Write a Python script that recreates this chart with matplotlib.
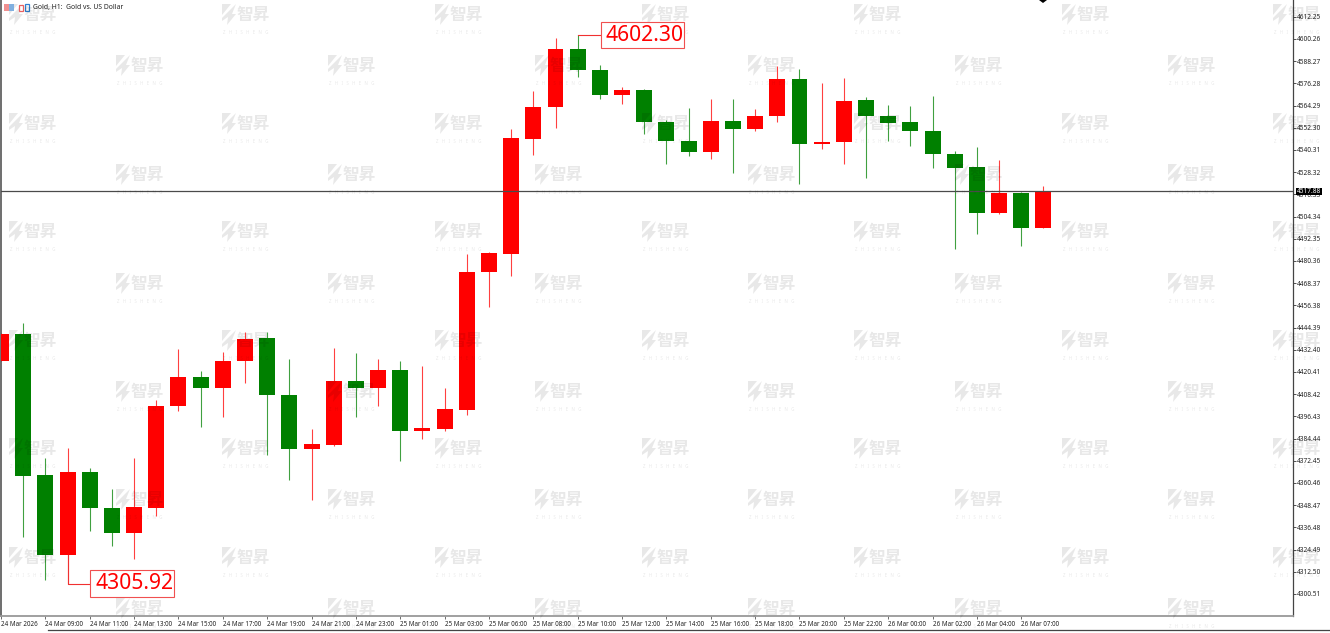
import matplotlib
matplotlib.use('Agg')
import matplotlib.pyplot as plt
from matplotlib.patches import Polygon, Rectangle

# H1 candles
opens = [4426.5, 4441.1, 4364.8, 4321.7, 4366.2, 4347.1, 4333.3, 4347.1, 4401.9, 4417.5, 4411.9, 4426.2,
         4438.6, 4408.1, 4378.7, 4381.1, 4415.7, 4411.6, 4421.3, 4388.4, 4389.5, 4399.9, 4474.2, 4484.3,
         4546.4, 4563.3, 4594.8, 4583.6, 4569.8, 4572.5, 4555.4, 4545.3, 4539.2, 4555.9, 4551.6, 4558.6,
         4578.8, 4543.7, 4544.4, 4567.1, 4558.8, 4555.2, 4550.7, 4538.3, 4530.9, 4506.3, 4517.2, 4498.2]
highs = [4441.3, 4446.7, 4374.1, 4379.4, 4368.4, 4357.2, 4374.1, 4405.3, 4432.8, 4420.9, 4431.0, 4441.8,
         4442.2, 4427.6, 4389.8, 4433.5, 4430.7, 4427.6, 4426.5, 4423.5, 4411.6, 4484.1, 4485.0, 4551.5,
         4572.0, 4600.8, 4602.3, 4586.2, 4574.1, 4573.0, 4556.6, 4563.1, 4567.7, 4567.7, 4562.4, 4585.6,
         4583.9, 4576.3, 4579.2, 4568.9, 4564.6, 4564.0, 4569.3, 4539.6, 4542.1, 4534.9, 4517.8, 4520.8]
lows = [4426.3, 4331.5, 4308.1, 4305.92, 4334.7, 4326.6, 4319.6, 4342.8, 4399.5, 4390.9, 4395.9, 4414.6,
        4375.6, 4362.1, 4351.3, 4380.4, 4396.3, 4402.2, 4372.3, 4384.1, 4388.4, 4397.2, 4455.7, 4472.4,
        4537.4, 4552.3, 4579.7, 4567.7, 4565.3, 4549.1, 4532.9, 4537.0, 4535.6, 4527.7, 4550.7, 4555.6,
        4521.9, 4540.7, 4532.9, 4525.0, 4545.1, 4542.4, 4530.6, 4486.8, 4494.8, 4505.6, 4488.6, 4498.2]
closes = [4441.1, 4364.4, 4321.7, 4366.2, 4346.8, 4333.3, 4347.5, 4402.2, 4417.9, 4411.9, 4426.5, 4438.4,
          4407.8, 4379.0, 4381.5, 4415.7, 4411.6, 4421.3, 4388.4, 4390.0, 4400.3, 4474.4, 4484.5, 4546.6,
          4563.5, 4594.8, 4583.3, 4569.8, 4572.5, 4555.4, 4545.3, 4539.2, 4555.9, 4551.6, 4558.6, 4578.8,
          4543.7, 4544.6, 4566.9, 4558.6, 4555.0, 4550.5, 4538.1, 4530.6, 4506.3, 4517.1, 4498.2, 4517.88]

price_ticks = [4612.25, 4600.26, 4588.27, 4576.28, 4564.29, 4552.30, 4540.31, 4528.32, 4516.33, 4504.34,
               4492.35, 4480.36, 4468.37, 4456.38, 4444.39, 4432.40, 4420.41, 4408.42, 4396.43, 4384.44,
               4372.45, 4360.46, 4348.47, 4336.48, 4324.49, 4312.50, 4300.51]
time_pos = [0, 2, 4, 6, 8, 10, 12, 14, 16, 18, 20, 22, 24, 26, 28, 30, 32, 34, 36, 38, 40, 42, 44, 46]
time_labels = ['24 Mar 2026', '24 Mar 09:00', '24 Mar 11:00', '24 Mar 13:00', '24 Mar 15:00', '24 Mar 17:00',
               '24 Mar 19:00', '24 Mar 21:00', '24 Mar 23:00', '25 Mar 01:00', '25 Mar 03:00', '25 Mar 06:00',
               '25 Mar 08:00', '25 Mar 10:00', '25 Mar 12:00', '25 Mar 14:00', '25 Mar 16:00', '25 Mar 18:00',
               '25 Mar 20:00', '25 Mar 22:00', '26 Mar 00:00', '26 Mar 02:00', '26 Mar 04:00', '26 Mar 07:00']
last_price = 4517.88
low_idx, low_price = 3, 4305.92
high_idx, high_price = 26, 4602.30

W, H = 1330, 633
fig = plt.figure(figsize=(W / 100, H / 100), dpi=100, facecolor='white')
plt.rcParams['font.family'] = ['Noto Sans', 'DejaVu Sans']

# price pane sits on pixel positions of the terminal window
ax = fig.add_axes([1 / W, 1 - 616 / H, 1292 / W, 616 / H])
ax.set_xlim(0.0225, 58.25)
ax.set_ylim(4288.63, 4621.27)

for i in range(len(opens)):
    col = 'red' if closes[i] >= opens[i] else 'green'
    ax.plot([i, i], [lows[i], highs[i]], color=col, lw=0.8, alpha=0.75, solid_capstyle='butt', zorder=2)
    bottom = min(opens[i], closes[i])
    ax.add_patch(Rectangle((i - 0.36, bottom), 0.72, abs(closes[i] - opens[i]), facecolor=col,
                           edgecolor='none', zorder=3))

ax.axhline(last_price, color='#4a4a4a', lw=0.9, zorder=4)

# connectors from the extreme bars to their labels
ax.plot([low_idx, low_idx, 4.03], [opens[low_idx], low_price, low_price], color='#f03030', lw=0.8, zorder=4)
ax.plot([high_idx, 27.06], [high_price, high_price], color='#f03030', lw=0.8, zorder=4)

ax.yaxis.tick_right()
ax.set_yticks(price_ticks)
ax.set_yticklabels(['%.2f' % p for p in price_ticks], fontsize=4.7, color='#222222')
ax.tick_params(axis='y', length=2.5, width=0.6, color='#333333', pad=0.5)
ax.set_xticks(time_pos)
ax.set_xticklabels(time_labels, fontsize=4.5, color='#222222', ha='left')
ax.tick_params(axis='x', length=2.5, width=0.6, color='#555555', pad=1)

ax.spines['top'].set_visible(False)
ax.spines['left'].set_color('#555555')
ax.spines['left'].set_linewidth(1.2)
ax.spines['right'].set_color('#444444')
ax.spines['right'].set_linewidth(0.9)
ax.spines['bottom'].set_color('#999999')
ax.spines['bottom'].set_linewidth(1.3)

# everything below is placed in window pixels
px = fig.add_axes([0, 0, 1, 1], facecolor='none')
px.set_xlim(0, W)
px.set_ylim(H, 0)
px.axis('off')
px.set_zorder(5)

# repeated watermark, semi-transparent over the candles
def watermark(x, y):
    px.add_patch(Polygon([(x, y + 1), (x + 9, y + 1), (x, y + 12)], fc='black', alpha=0.09, ec='none'))
    px.add_patch(Polygon([(x + 14, y + 1), (x + 10, y + 11), (x + 14, y + 11), (x + 5, y + 22), (x + 6, y + 14), (x, y + 18), (x, y + 15)],
                         fc='black', alpha=0.09, ec='none'))
    px.text(x + 31, y + 11.5, '智昇', family=['Noto Sans CJK SC'], fontsize=12, fontweight='bold', color='black',
            alpha=0.09, ha='center', va='center')
    px.text(x + 23.5, y + 29.5, 'Z   H   I   S   H   E   N   G', fontsize=3.2, color='black', alpha=0.09,
            ha='center', va='center')

col_a = [9, 222, 435, 642, 854, 1062, 1273]
col_b = [116, 328, 535, 748, 955, 1168]
for x in col_a:
    for y in [3, 112, 220, 329, 437, 546]:
        watermark(x, y)
for x in col_b:
    for y in [54, 163, 272, 380, 488, 597]:
        watermark(x, y)

# low / high labels
px.add_patch(Rectangle((90, 570), 83.7, 26.7, fc='white', ec='#f05050', lw=0.8, zorder=6))
px.text(95.5, 583.3, '%.2f' % low_price, color='red', fontsize=15.2, va='center', ha='left', zorder=7)
px.add_patch(Rectangle((601, 22.3), 82.7, 26, fc='white', ec='#f05050', lw=0.8, zorder=6))
px.text(605.5, 35.3, '%.2f' % high_price, color='red', fontsize=15.2, va='center', ha='left', zorder=7)

# price tag of the last bid
px.add_patch(Rectangle((1295.7, 187.7), 26.6, 7.3, fc='black', ec='none', zorder=6))
px.text(1309, 191.3, '%.2f' % last_price, fontsize=4.7, color='white', ha='center', va='center', zorder=7)

# chart header with its two small icons
px.add_patch(Rectangle((4, 4), 5, 6.5, fc='#f09090', ec='none'))
px.add_patch(Rectangle((9, 4), 5, 6.5, fc='#80b0e0', ec='none'))
px.add_patch(Rectangle((18.5, 5), 4, 5.5, fc='white', ec='#e86060', lw=0.9))
px.add_patch(Rectangle((24.5, 4), 4, 6.5, fc='white', ec='#3080d0', lw=0.9))
px.text(33, 7, 'Gold, H1:  Gold vs. US Dollar', fontsize=4.9, color='#222222', ha='left', va='center')

# window frame pieces
px.plot([48, W], [630.3, 630.3], color='#444444', lw=0.9)
px.add_patch(Polygon([(1039, 0), (1047, 0), (1043, 3)], fc='black', ec='none'))

fig.savefig('out.png', dpi=100)
